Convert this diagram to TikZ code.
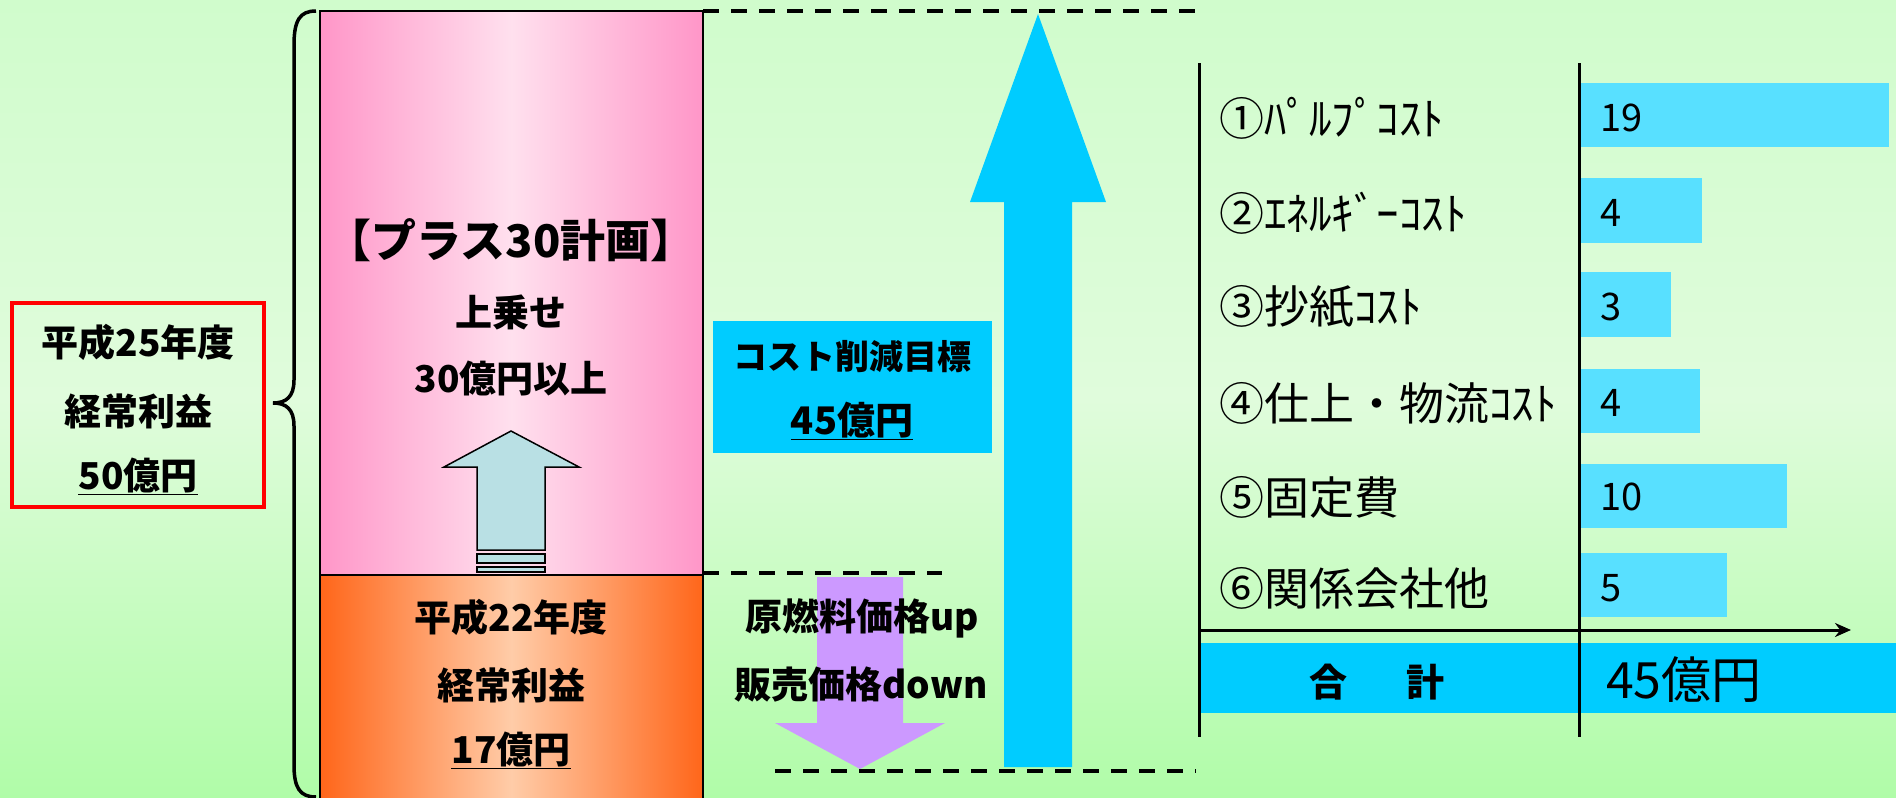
\documentclass[tikz,border=0pt]{standalone}
\usepackage{fontspec}
\setmainfont{Noto Sans CJK JP}
\usetikzlibrary{arrows.meta}
\definecolor{bgtop}{RGB}{208,252,204}
\definecolor{bgmid}{RGB}{224,252,220}
\definecolor{bgbot}{RGB}{176,252,168}
\definecolor{pinkE}{RGB}{255,150,200}
\definecolor{pinkC}{RGB}{255,224,238}
\definecolor{oraE}{RGB}{255,102,26}
\definecolor{oraC}{RGB}{255,204,168}
\definecolor{cyanA}{RGB}{0,204,255}
\definecolor{barC}{RGB}{88,224,255}
\definecolor{purp}{RGB}{204,153,255}
\definecolor{lblue}{RGB}{185,224,228}
\tikzset{
  bt/.style={font=\fontsize{37}{41}\selectfont\bfseries, inner sep=0pt},
  bigt/.style={font=\fontsize{45}{49}\selectfont\bfseries, inner sep=0pt},
  lab/.style={font=\fontsize{45}{49}\selectfont, inner sep=0pt, anchor=west},
  val/.style={font=\fontsize{38}{42}\selectfont, inner sep=0pt, anchor=west},
  guide/.style={line width=4pt, dash pattern=on 16pt off 12pt},
  bar/.style={fill=barC, draw=none},
  axis/.style={line width=3pt},
}
\begin{document}
\begin{tikzpicture}[x=1pt,y=-1pt]
\useasboundingbox (0,0) rectangle (1896,798);
\shade[top color=bgtop, bottom color=bgbot, middle color=bgmid] (0,0) rectangle (1896,798);

% brace
\draw[line width=3.5pt] (316,11) .. controls (300,11) and (294,20) .. (294,45) -- (294,380) .. controls (294,397) and (286,403) .. (273,403) .. controls (286,403) and (294,409) .. (294,426) -- (294,765) .. controls (294,788) and (300,797) .. (316,797);

% red box
\draw[red, line width=3.5pt] (12,303) rectangle (264,507);
\node[bt] (r1) at (138,342) {平成25年度};
\node[bt] (r2) at (138,411) {経常利益};
\node[bt] (r3) at (138,476) {\underline{50億円}};

% pink box
\shade[left color=pinkE, right color=pinkE, middle color=pinkC] (320,11) rectangle (703,575);
\draw[line width=1.5pt] (320,11) rectangle (703,575);
% orange box
\shade[left color=oraE, right color=oraE, middle color=oraC] (320,575) rectangle (703,800);
\draw[line width=1.5pt] (320,800) -- (320,575) -- (703,575) -- (703,800);

\node[bigt] (p1) at (511,240) {【プラス30計画】};
\node[bt] (p2) at (511,312) {上乗せ};
\node[bt] (p3) at (511,378) {30億円以上};

% small up arrow
\draw[fill=lblue, line width=1.5pt] (477,550) -- (477,467) -- (444,467) -- (511,431) -- (579,467) -- (545,467) -- (545,550) -- cycle;
\draw[fill=lblue, line width=1.5pt] (477,554) rectangle (545,563);
\draw[fill=lblue, line width=1.5pt] (477,567) rectangle (545,572);

\node[bt] (o1) at (511,617) {平成22年度};
\node[bt] (o2) at (511,685) {経常利益};
\node[bt] (o3) at (511,750) {\underline{17億円}};

% guide lines
\coordinate (g1a) at (703,11); \coordinate (g1b) at (1196,11);
\coordinate (g2a) at (703,573); \coordinate (g2b) at (942,573);
\coordinate (g3a) at (775,771); \coordinate (g3b) at (1196,771);
\draw[guide] (g1a) -- (g1b);
\draw[guide] (g2a) -- (g2b);
\draw[guide] (g3a) -- (g3b);

% cyan target box
\fill[cyanA] (713,321) rectangle (992,453);
\node[font=\fontsize{34}{38}\selectfont\bfseries, inner sep=0pt] (c1) at (852,357) {コスト削減目標};
\node[font=\fontsize{38}{42}\selectfont\bfseries, inner sep=0pt] (c2) at (852,421) {\underline{45億円}};

% big cyan arrow
\fill[cyanA] (1004,767) -- (1004,202) -- (970,202) -- (1038,14) -- (1106,202) -- (1072,202) -- (1072,767) -- cycle;

% purple arrow
\fill[purp] (817,577) -- (903,577) -- (903,723) -- (945,723) -- (860,769) -- (775,723) -- (817,723) -- cycle;
\node[bt] (d1) at (862,618) {原燃料価格up};
\node[bt] (d2) at (861,685) {販売価格down};

% table
\fill[cyanA] (1199,643) rectangle (1896,713);
\fill[bar] (1579,83) rectangle (1889,147);
\fill[bar] (1579,178) rectangle (1702,243);
\fill[bar] (1579,272) rectangle (1671,337);
\fill[bar] (1579,369) rectangle (1700,433);
\fill[bar] (1579,464) rectangle (1787,528);
\fill[bar] (1579,553) rectangle (1727,617);
\coordinate (vl1a) at (1199,63); \coordinate (vl1b) at (1199,737);
\coordinate (vl2a) at (1579,63); \coordinate (vl2b) at (1579,737);
\coordinate (axa) at (1199,630); \coordinate (axb) at (1851,630);
\draw[axis] (vl1a) -- (vl1b);
\draw[axis] (vl2a) -- (vl2b);
\draw[axis, -{Stealth[length=16pt,width=14pt]}] (axa) -- (axb);

\node[lab] (l1) at (1219,118) {①ﾊﾟﾙﾌﾟｺｽﾄ};
\node[lab] (l2) at (1219,213) {②ｴﾈﾙｷﾞｰｺｽﾄ};
\node[lab] (l3) at (1219,307) {③抄紙ｺｽﾄ};
\node[lab] (l4) at (1219,403) {④仕上・物流ｺｽﾄ};
\node[lab] (l5) at (1219,497) {⑤固定費};
\node[lab] (l6) at (1219,588) {⑥関係会社他};

\node[val] (v1) at (1600,118) {19};
\node[val] (v2) at (1600,213) {4};
\node[val] (v3) at (1600,307) {3};
\node[val] (v4) at (1600,403) {4};
\node[val] (v5) at (1600,497) {10};
\node[val] (v6) at (1600,588) {5};

\node[font=\fontsize{38}{42}\selectfont\bfseries, inner sep=0pt] (tot) at (1377,682) {合\hspace{60pt}計};
\node[font=\fontsize{50}{54}\selectfont, inner sep=0pt, anchor=west] (totv) at (1606,680) {45億円};
\end{tikzpicture}
\end{document}
